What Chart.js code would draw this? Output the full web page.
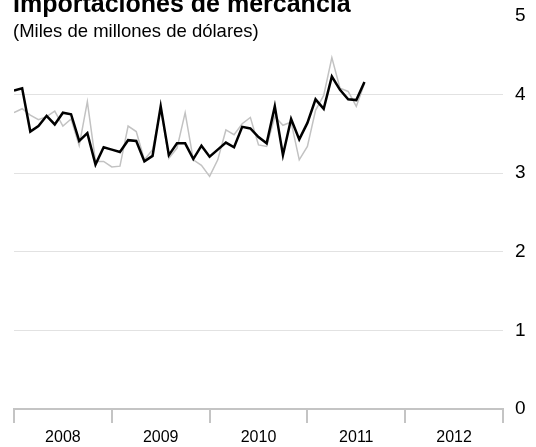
<!DOCTYPE html>
<html>
<head>
<meta charset="utf-8">
<script src="https://cdn.jsdelivr.net/npm/chart.js@4"></script>
<style>
  body { margin: 0; background: #fff; }
  #wrap { position: relative; width: 536px; height: 447px; overflow: hidden; font-family: "Liberation Sans", Arial, sans-serif; }
  #title { position: absolute; left: 13px; top: -9px; font-weight: bold; font-size: 25px; line-height: 25px; color: #000; white-space: nowrap; }
  #subtitle { position: absolute; left: 13px; top: 22px; font-size: 18.5px; line-height: 18px; color: #000; white-space: nowrap; }
</style>
</head>
<body>
<div id="wrap">
  <canvas id="importChart"></canvas>
  <div id="title">Importaciones de mercancía</div>
  <div id="subtitle">(Miles de millones de dólares)</div>
</div>
<script>
// monthly values, Jan 2008 - Aug 2011
const years = ['2008', '2009', '2010', '2011', '2012'];
const yTicks = [0, 1, 2, 3, 4, 5];

// black line
const importsMain = [
  4.05, 4.08, 3.53, 3.60, 3.73, 3.62, 3.77, 3.75, 3.41, 3.51, 3.11, 3.33,
  3.30, 3.27, 3.42, 3.41, 3.15, 3.22, 3.85, 3.23, 3.38, 3.38, 3.18, 3.35,
  3.21, 3.30, 3.39, 3.33, 3.59, 3.57, 3.46, 3.38, 3.85, 3.23, 3.69, 3.43,
  3.64, 3.94, 3.82, 4.23, 4.06, 3.94, 3.93, 4.16
];

// gray line
const importsOther = [
  3.77, 3.82, 3.74, 3.68, 3.72, 3.79, 3.60, 3.69, 3.35, 3.91, 3.15, 3.15,
  3.08, 3.09, 3.60, 3.53, 3.17, 3.30, 3.82, 3.19, 3.32, 3.77, 3.17, 3.10,
  2.96, 3.17, 3.55, 3.49, 3.63, 3.71, 3.36, 3.34, 3.72, 3.61, 3.65, 3.17,
  3.34, 3.80, 3.99, 4.47, 4.08, 4.04, 3.85, 4.14
];

const toPoints = (arr) => arr.map((v, i) => ({ x: i, y: v }));

const ctx = document.getElementById('importChart').getContext('2d');
new Chart(ctx, {
  type: 'line',
  data: {
    datasets: [
      {
        data: toPoints(importsMain),
        borderColor: '#000',
        borderWidth: 2.5,
        pointRadius: 0,
        tension: 0,
        order: 0
      },
      {
        data: toPoints(importsOther),
        borderColor: '#c2c2c2',
        borderWidth: 1.5,
        pointRadius: 0,
        tension: 0,
        order: 1
      }
    ]
  },
  options: {
    responsive: true,
    maintainAspectRatio: false,
    animation: false,
    layout: { padding: { left: 14, top: 16, right: 0, bottom: 0 } },
    plugins: {
      legend: { display: false },
      tooltip: { enabled: false }
    },
    scales: {
      x: {
        type: 'linear',
        min: 0,
        max: 60,
        afterFit: (scale) => { scale.height = 38; },
        ticks: {
          stepSize: 6,
          autoSkip: false,
          maxRotation: 0,
          padding: 5,
          color: '#000',
          font: { family: 'Liberation Sans', size: 16 },
          callback: (v) => (v % 12 === 6 ? years[(v - 6) / 12] : '')
        },
        grid: {
          drawOnChartArea: false,
          tickLength: 14,
          lineWidth: 2,
          color: (c) => (c.tick && c.tick.value % 12 === 0 ? '#c4c4c4' : 'rgba(0,0,0,0)')
        },
        border: { display: true, color: '#c4c4c4', width: 2 }
      },
      y: {
        position: 'right',
        min: 0,
        max: 5,
        afterFit: (scale) => {
          scale.width = 33;
          scale.paddingTop = 0;
          scale.paddingBottom = 0;
        },
        afterBuildTicks: (scale) => { scale.ticks = yTicks.map(v => ({ value: v })); },
        ticks: {
          padding: 12,
          color: '#000',
          font: { family: 'Liberation Sans', size: 19 }
        },
        grid: {
          drawTicks: false,
          lineWidth: 1,
          color: (c) => (c.tick && c.tick.value > 0 && c.tick.value < 5 ? '#e2e2e2' : 'rgba(0,0,0,0)')
        },
        border: { display: false }
      }
    }
  }
});
</script>
</body>
</html>
